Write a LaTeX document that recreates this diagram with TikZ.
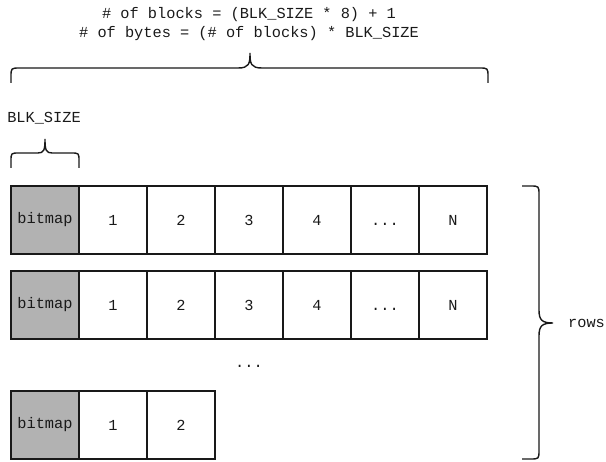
\documentclass[tikz,border=0pt]{standalone}
\usepackage{fontspec}
\setmonofont{Liberation Mono}
\begin{document}
\begin{tikzpicture}[x=1pt,y=-1pt,
  every node/.style={font=\fontsize{15.3}{18.5}\selectfont\ttfamily, text=black!90},
  cell/.style={draw=black!90, line width=1.4pt, minimum width=68pt, minimum height=68pt, inner sep=0pt, fill=white},
  bmp/.style={cell, fill=black!30},
  bracepath/.style={draw=black!90, line width=1.4pt},
  lbl/.style={inner sep=0pt}]
\useasboundingbox (0,0) rectangle (606,462);
% labels
\node[lbl, align=center] (formula) at (249,24) {\# of blocks = (BLK\_SIZE * 8) + 1\\\# of bytes = (\# of blocks) * BLK\_SIZE};
\node[lbl] (blk) at (44,118) {BLK\_SIZE};
% top brace
\draw[bracepath] (11,83) -- (11,77) .. controls (11,68) .. (20,68) -- (238,68) .. controls (249,68) and (250,64) .. (250,53)
  .. controls (250,64) and (251,68) .. (262,68) -- (479,68) .. controls (488,68) .. (488,77) -- (488,83);
% small brace
\draw[bracepath] (11,168) -- (11,161) .. controls (11,153) .. (19,153) -- (38,153) .. controls (44,153) and (45,150) .. (45,139)
  .. controls (45,150) and (46,153) .. (52,153) -- (71,153) .. controls (79,153) .. (79,161) -- (79,168);
% rows
\foreach \r/\y in {1/220,2/305} {
  \node[bmp] (r\r c0) at (45,\y) {bitmap};
  \node[cell] (r\r c1) at (113,\y) {1};
  \node[cell] (r\r c2) at (181,\y) {2};
  \node[cell] (r\r c3) at (249,\y) {3};
  \node[cell] (r\r c4) at (317,\y) {4};
  \node[cell] (r\r c5) at (385,\y) {\vphantom{1}.{}.{}.};
  \node[cell] (r\r c6) at (453,\y) {N};
}
\node[lbl] (vdots) at (249,362) {\vphantom{1}.{}.{}.};
\node[bmp] (r3c0) at (45,425) {bitmap};
\node[cell] (r3c1) at (113,425) {1};
\node[cell] (r3c2) at (181,425) {2};
% right brace
\draw[bracepath] (522,186) -- (530,186) .. controls (539,186) .. (539,195) -- (539,310) .. controls (539,320) and (542,323) .. (553,323)
  .. controls (542,323) and (539,326) .. (539,336) -- (539,450) .. controls (539,459) .. (530,459) -- (522,459);
\node[lbl, anchor=west] (rows) at (568,323) {rows};
\end{tikzpicture}
\end{document}
